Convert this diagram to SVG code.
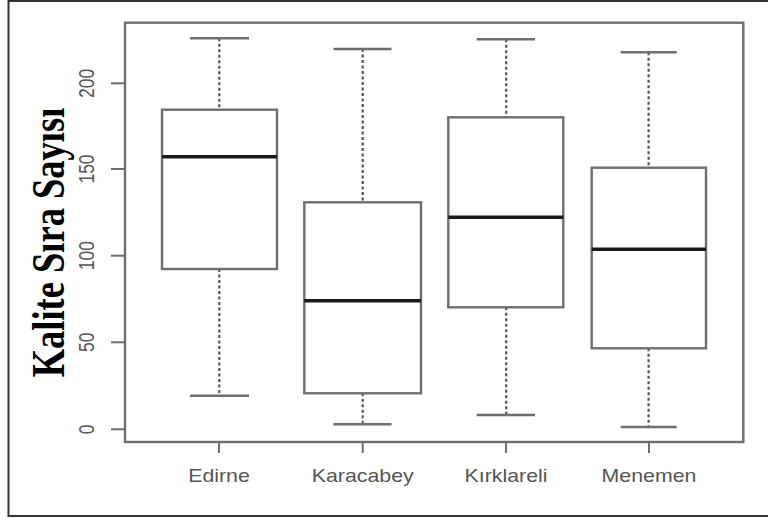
<svg xmlns="http://www.w3.org/2000/svg" width="768" height="519" viewBox="0 0 768 519">
<style>
.box{fill:#fff;stroke:#6e6e6e;stroke-width:2.4}
.med{stroke:#1a1a1a;stroke-width:3.4}
.wh{stroke:#555;stroke-width:2.2;stroke-dasharray:3 2.5}
.cap{stroke:#6e6e6e;stroke-width:2.4}
.tick{stroke:#6e6e6e;stroke-width:2}
.ax{font-family:"Liberation Sans",Arial,sans-serif;fill:#555;font-size:17.5px;text-anchor:middle}
.ttl{font-family:"Liberation Serif","Times New Roman",serif;font-weight:bold;fill:#000;font-size:36.5px;text-anchor:middle}
</style>
<rect x="0" y="0" width="768" height="519" fill="#fff"/>
<rect x="8.5" y="1" width="770" height="515" fill="none" stroke="#333" stroke-width="2"/>
<g id="axes">
<rect x="125" y="22.7" width="618.3" height="419.3" fill="none" stroke="#6e6e6e" stroke-width="2.4"/>
<line class="tick" x1="111" y1="83.3" x2="125" y2="83.3"/>
<line class="tick" x1="111" y1="169" x2="125" y2="169"/>
<line class="tick" x1="111" y1="255.7" x2="125" y2="255.7"/>
<line class="tick" x1="111" y1="342.3" x2="125" y2="342.3"/>
<line class="tick" x1="111" y1="429.3" x2="125" y2="429.3"/>
<text class="ax" transform="translate(94,83.3) rotate(-90) scale(1,1.22)">200</text>
<text class="ax" transform="translate(94,169) rotate(-90) scale(1,1.22)">150</text>
<text class="ax" transform="translate(94,255.7) rotate(-90) scale(1,1.22)">100</text>
<text class="ax" transform="translate(94,342.3) rotate(-90) scale(1,1.22)">50</text>
<text class="ax" transform="translate(94,429.3) rotate(-90) scale(1,1.22)">0</text>
<line class="tick" x1="219" y1="442" x2="219" y2="453"/>
<line class="tick" x1="362.7" y1="442" x2="362.7" y2="453"/>
<line class="tick" x1="506" y1="442" x2="506" y2="453"/>
<line class="tick" x1="649" y1="442" x2="649" y2="453"/>
<text class="ax" transform="translate(219,481.5) scale(1.22,1)">Edirne</text>
<text class="ax" transform="translate(362.7,481.5) scale(1.22,1)">Karacabey</text>
<text class="ax" transform="translate(506,481.5) scale(1.22,1)">Kırklareli</text>
<text class="ax" transform="translate(649,481.5) scale(1.22,1)">Menemen</text>
<text class="ttl" transform="translate(63.5,242.5) rotate(-90) scale(1,1.3)">Kalite Sıra Sayısı</text>
</g>
<g id="edirne">
<line class="wh" x1="219.3" y1="38.3" x2="219.3" y2="109.7"/>
<line class="wh" x1="219.3" y1="269" x2="219.3" y2="395.7"/>
<line class="cap" x1="190" y1="38.3" x2="249" y2="38.3"/>
<line class="cap" x1="190" y1="395.7" x2="249" y2="395.7"/>
<rect class="box" x="162" y="109.7" width="115" height="159.3"/>
<line class="med" x1="162" y1="156.7" x2="277" y2="156.7"/>
</g>
<g id="karacabey">
<line class="wh" x1="362.7" y1="49" x2="362.7" y2="202.3"/>
<line class="wh" x1="362.7" y1="393.3" x2="362.7" y2="424.3"/>
<line class="cap" x1="333.5" y1="49" x2="391.5" y2="49"/>
<line class="cap" x1="333.5" y1="424.3" x2="391.5" y2="424.3"/>
<rect class="box" x="304.3" y="202.3" width="116.7" height="191"/>
<line class="med" x1="304.3" y1="300.7" x2="421" y2="300.7"/>
</g>
<g id="kirklareli">
<line class="wh" x1="506.2" y1="39.3" x2="506.2" y2="117.3"/>
<line class="wh" x1="506.2" y1="307.3" x2="506.2" y2="415"/>
<line class="cap" x1="476.7" y1="39.3" x2="535" y2="39.3"/>
<line class="cap" x1="476.7" y1="415" x2="535" y2="415"/>
<rect class="box" x="448.3" y="117.3" width="115" height="190"/>
<line class="med" x1="448.3" y1="217.3" x2="563.3" y2="217.3"/>
</g>
<g id="menemen">
<line class="wh" x1="648.6" y1="52.3" x2="648.6" y2="167.7"/>
<line class="wh" x1="648.6" y1="348.3" x2="648.6" y2="427"/>
<line class="cap" x1="620.7" y1="52.3" x2="676.7" y2="52.3"/>
<line class="cap" x1="620.7" y1="427" x2="676.7" y2="427"/>
<rect class="box" x="591.7" y="167.7" width="114.3" height="180.6"/>
<line class="med" x1="591.7" y1="249.3" x2="706" y2="249.3"/>
</g>
</svg>
